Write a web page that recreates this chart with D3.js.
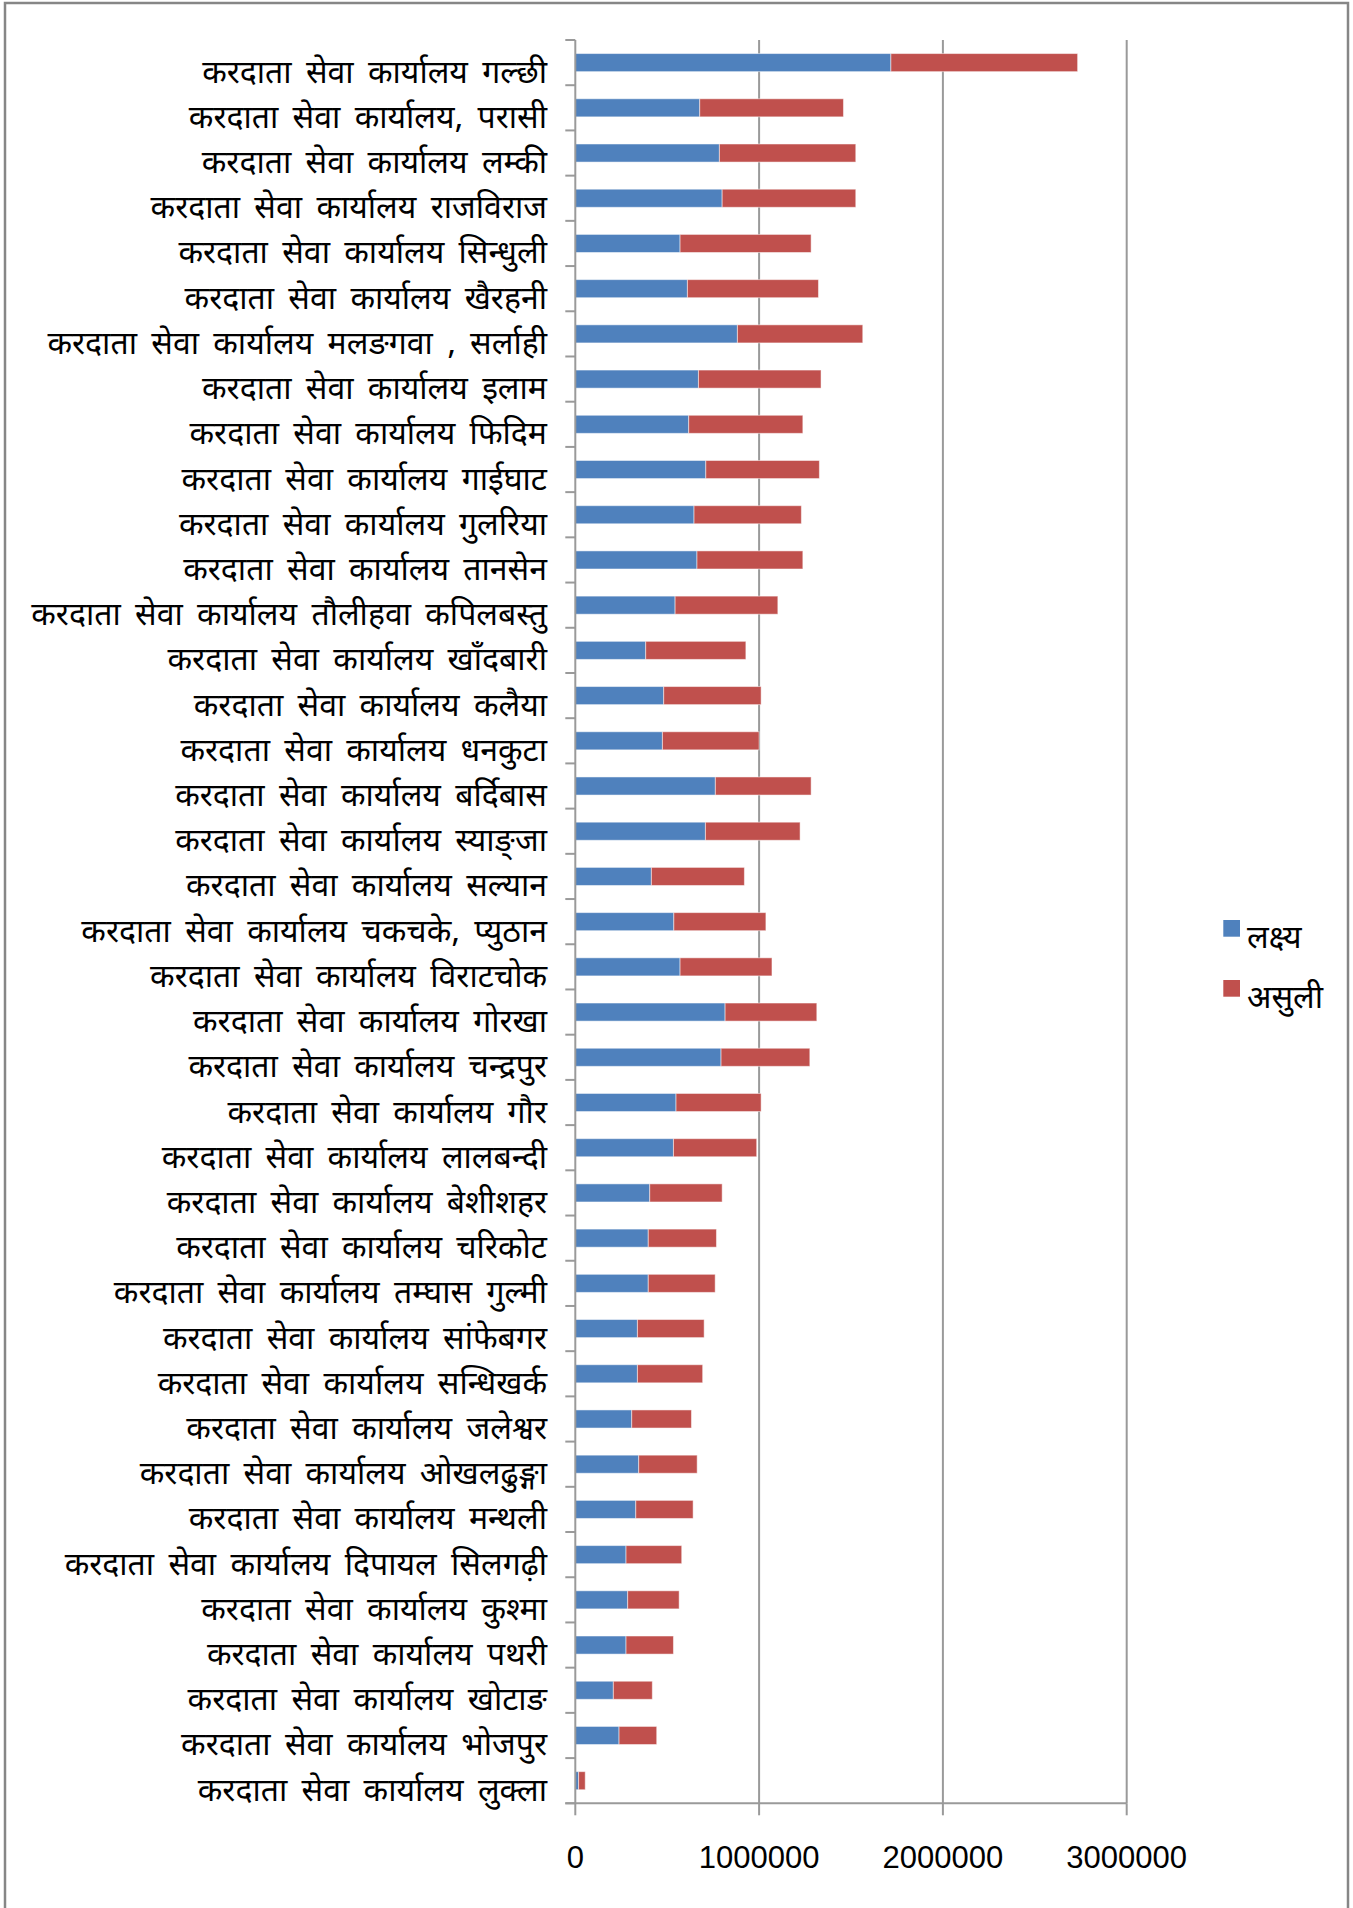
<!DOCTYPE html>
<html>
<head>
<meta charset="utf-8">
<script src="https://cdnjs.cloudflare.com/ajax/libs/d3/7.8.5/d3.min.js"></script>
<style>
  html, body { margin: 0; padding: 0; background: #fff; }
  svg { display: block; }
</style>
</head>
<body>
<svg id="chart" width="1353" height="1908"></svg>
<script>
const categories = [
  "करदाता सेवा कार्यालय गल्छी",
  "करदाता सेवा कार्यालय, परासी",
  "करदाता सेवा कार्यालय लम्की",
  "करदाता सेवा कार्यालय राजविराज",
  "करदाता सेवा कार्यालय सिन्धुली",
  "करदाता सेवा कार्यालय खैरहनी",
  "करदाता सेवा कार्यालय मलङगवा , सर्लाही",
  "करदाता सेवा कार्यालय इलाम",
  "करदाता सेवा कार्यालय फिदिम",
  "करदाता सेवा कार्यालय गाईघाट",
  "करदाता सेवा कार्यालय गुलरिया",
  "करदाता सेवा कार्यालय तानसेन",
  "करदाता सेवा कार्यालय तौलीहवा कपिलबस्तु",
  "करदाता सेवा कार्यालय खाँदबारी",
  "करदाता सेवा कार्यालय कलैया",
  "करदाता सेवा कार्यालय धनकुटा",
  "करदाता सेवा कार्यालय बर्दिबास",
  "करदाता सेवा कार्यालय स्याङ्जा",
  "करदाता सेवा कार्यालय सल्यान",
  "करदाता सेवा कार्यालय चकचके, प्युठान",
  "करदाता सेवा कार्यालय विराटचोक",
  "करदाता सेवा कार्यालय गोरखा",
  "करदाता सेवा कार्यालय चन्द्रपुर",
  "करदाता सेवा कार्यालय गौर",
  "करदाता सेवा कार्यालय लालबन्दी",
  "करदाता सेवा कार्यालय बेशीशहर",
  "करदाता सेवा कार्यालय चरिकोट",
  "करदाता सेवा कार्यालय तम्घास गुल्मी",
  "करदाता सेवा कार्यालय सांफेबगर",
  "करदाता सेवा कार्यालय सन्धिखर्क",
  "करदाता सेवा कार्यालय जलेश्वर",
  "करदाता सेवा कार्यालय ओखलढुङ्गा",
  "करदाता सेवा कार्यालय मन्थली",
  "करदाता सेवा कार्यालय दिपायल सिलगढ़ी",
  "करदाता सेवा कार्यालय कुश्मा",
  "करदाता सेवा कार्यालय पथरी",
  "करदाता सेवा कार्यालय खोटाङ",
  "करदाता सेवा कार्यालय भोजपुर",
  "करदाता सेवा कार्यालय लुक्ला"
];

// लक्ष्य (target)
const target = [
  1717000, 677000, 784000, 799000, 570000, 610000, 882000, 670000, 617000, 710000,
  646000, 662000, 543000, 383000, 481000, 474000, 762000, 708000, 414000, 536000,
  570000, 815000, 793000, 548000, 534000, 405000, 397000, 397000, 338000, 338000,
  307000, 345000, 329000, 276000, 285000, 276000, 207000, 238000, 18000
];

// असुली (collection)
const collection = [
  1016000, 782000, 742000, 727000, 713000, 713000, 682000, 667000, 621000, 618000,
  584000, 576000, 559000, 545000, 530000, 526000, 521000, 515000, 506000, 501000,
  500000, 499000, 483000, 463000, 453000, 394000, 371000, 364000, 363000, 355000,
  325000, 318000, 312000, 303000, 280000, 258000, 212000, 205000, 36000
];

const seriesNames = ["लक्ष्य", "असुली"];
const seriesColors = ["#4F81BD", "#C0504D"];
const xTicks = [0, 1000000, 2000000, 3000000];

const svg = d3.select("#chart");
const devFont = "'Noto Sans Devanagari', 'Mangal', 'Lohit Devanagari', 'Noto Sans', sans-serif";
const numFont = "'Liberation Sans Narrow', 'Liberation Sans', Arial, sans-serif";

// outer frame
svg.append("rect")
  .attr("x", 5).attr("y", 3)
  .attr("width", 1343).attr("height", 1930)
  .attr("fill", "#fff")
  .attr("stroke", "#868686")
  .attr("stroke-width", 2.5);

const x = d3.scaleLinear().domain([0, 3000000]).range([575.3, 1126.7]);
const y = d3.scaleBand().domain(categories).range([40, 1803.3])
  .paddingInner(0.6).paddingOuter(0.3);
const step = y.step();
const plotTop = y.range()[0], plotBottom = y.range()[1];

const axisColor = "#9a9a9a";

// gridlines
svg.append("g").selectAll("line").data(xTicks.slice(1)).join("line")
  .attr("x1", d => x(d)).attr("x2", d => x(d))
  .attr("y1", plotTop).attr("y2", plotBottom)
  .attr("stroke", axisColor).attr("stroke-width", 2);

// stacked data
const rows = categories.map((c, i) => ({ cat: c, v0: target[i], v1: collection[i] }));
const stacked = d3.stack().keys(["v0", "v1"])(rows);

const bars = svg.append("g");
stacked.forEach((layer, si) => {
  bars.append("g").attr("fill", seriesColors[si])
    .selectAll("rect").data(layer).join("rect")
    .attr("x", d => x(d[0]))
    .attr("y", d => y(d.data.cat))
    .attr("width", d => x(d[1]) - x(d[0]))
    .attr("height", y.bandwidth())
    .attr("stroke", "rgba(255,255,255,0.5)")
    .attr("stroke-width", 1);
});

// y axis line + ticks at band boundaries
const yAxisG = svg.append("g");
yAxisG.append("line")
  .attr("x1", x(0)).attr("x2", x(0))
  .attr("y1", plotTop).attr("y2", plotBottom)
  .attr("stroke", axisColor).attr("stroke-width", 2);
const boundaries = categories.map(c => y(c) - step * y.paddingOuter()).concat([plotBottom]);
yAxisG.selectAll("line.tick").data(boundaries).join("line")
  .attr("class", "tick")
  .attr("x1", x(0) - 10).attr("x2", x(0))
  .attr("y1", d => d).attr("y2", d => d)
  .attr("stroke", axisColor).attr("stroke-width", 2);

// category labels
svg.append("g").selectAll("text").data(categories).join("text")
  .attr("x", 547)
  .attr("y", d => y(d) + y.bandwidth() / 2 + 20)
  .attr("text-anchor", "end")
  .attr("font-family", devFont)
  .attr("font-size", 32)
  .attr("word-spacing", 6)
  .attr("fill", "#000")
  .text(d => d);

// x axis
const xAxisG = svg.append("g");
xAxisG.append("line")
  .attr("x1", x(0) - 10).attr("x2", x(3000000))
  .attr("y1", plotBottom).attr("y2", plotBottom)
  .attr("stroke", axisColor).attr("stroke-width", 2);
xAxisG.selectAll("line.tick").data(xTicks).join("line")
  .attr("class", "tick")
  .attr("x1", d => x(d)).attr("x2", d => x(d))
  .attr("y1", plotBottom).attr("y2", plotBottom + 12)
  .attr("stroke", axisColor).attr("stroke-width", 2);
xAxisG.selectAll("text").data(xTicks).join("text")
  .attr("x", d => x(d))
  .attr("y", 1868)
  .attr("text-anchor", "middle")
  .attr("font-family", numFont)
  .attr("font-size", 31)
  .attr("fill", "#000")
  .text(d => String(d));

// legend
const legend = svg.append("g");
seriesNames.forEach((name, i) => {
  const ly = 920 + i * 60;
  legend.append("rect")
    .attr("x", 1223.3).attr("y", ly)
    .attr("width", 16.7).attr("height", 16.7)
    .attr("fill", seriesColors[i]);
  legend.append("text")
    .attr("x", 1247).attr("y", ly + 28)
    .attr("font-family", devFont)
    .attr("font-size", 32)
    .attr("fill", "#000")
    .text(name);
});
</script>
</body>
</html>
